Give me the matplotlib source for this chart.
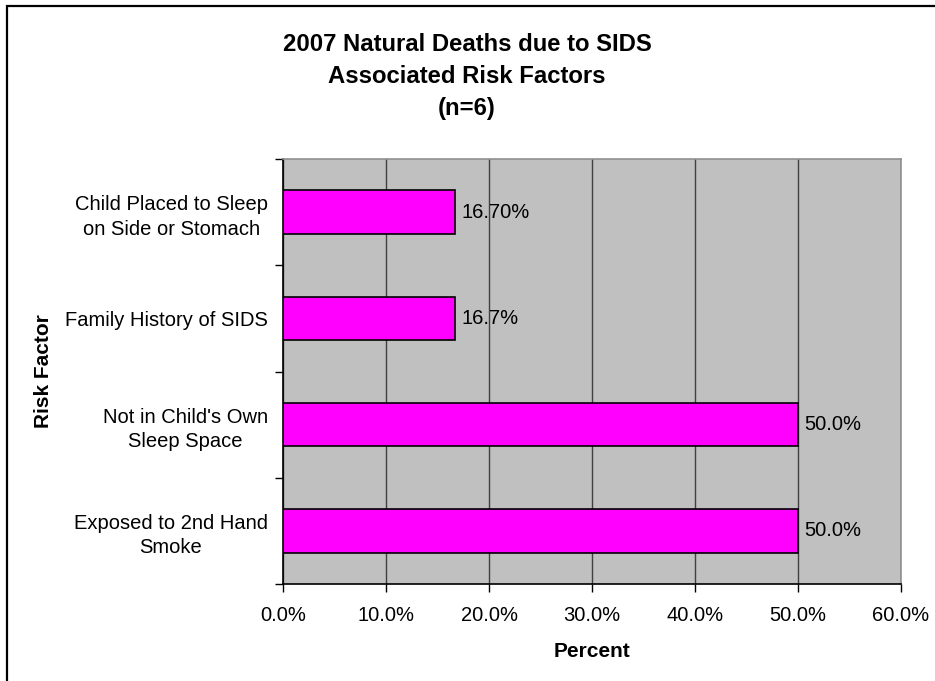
import matplotlib.pyplot as plt
from matplotlib.patches import Rectangle
from matplotlib.ticker import FuncFormatter

categories = ['Exposed to 2nd Hand\nSmoke', "Not in Child's Own\nSleep Space",
              'Family History of SIDS', 'Child Placed to Sleep\non Side or Stomach']
values = [50.0, 50.0, 16.7, 16.7]
value_labels = ['50.0%', '50.0%', '16.7%', '16.70%']
xticks = [0, 10, 20, 30, 40, 50, 60]

plt.rcParams['font.family'] = ['Liberation Sans', 'DejaVu Sans']

fig = plt.figure(figsize=(9.35, 6.81), dpi=100)
W, H = 935, 681
ax = fig.add_axes([283 / W, 1 - 584 / H, (901 - 283) / W, (584 - 159) / H])
ax.set_facecolor('#C0C0C0')

y = range(len(categories))
ax.barh(y, values, height=0.41, color='#FF00FF', edgecolor='black', linewidth=1.2, zorder=3)
for i, v in enumerate(values):
    ax.text(v + 0.6, i, value_labels[i], va='center', ha='left', fontsize=14.5, zorder=4)

ax.set_xlim(0, 60)
ax.set_ylim(-0.5, len(categories) - 0.5)
ax.set_xticks(xticks)
ax.xaxis.set_major_formatter(FuncFormatter(lambda v, p: '%.1f%%' % v))
ax.set_yticks([i - 0.5 for i in range(len(categories) + 1)])
ax.set_yticklabels([])
ax.set_yticks(list(y), minor=True)
ax.set_yticklabels(categories, minor=True, fontsize=14.5, ha='right', multialignment='center',
                   linespacing=1.36)
ax.tick_params(axis='y', which='minor', length=0, pad=11)
ax.tick_params(axis='y', which='major', length=6, direction='out', width=1)
ax.tick_params(axis='x', length=6, direction='out', width=1, labelsize=14.5, pad=10)
ax.grid(axis='x', color='#404040', linewidth=1, zorder=1)

ax.spines['left'].set_color('black')
ax.spines['bottom'].set_color('black')
ax.spines['top'].set_color('#909090')
ax.spines['right'].set_color('#909090')
for s in ax.spines.values():
    s.set_linewidth(1.2)

ax.set_xlabel('Percent', fontsize=15, fontweight='bold', labelpad=12)
ax.set_ylabel('Risk Factor', fontsize=15, fontweight='bold')
ax.yaxis.set_label_coords(-(283 - 53) / (901 - 283), 0.5)

fig.text(467 / W, 1 - 76.5 / H, '2007 Natural Deaths due to SIDS\nAssociated Risk Factors\n(n=6)',
         ha='center', va='center', fontsize=17.2, fontweight='bold', linespacing=1.52)

fig.patches.append(Rectangle((7 / W, -0.1), 1.2, 1 - 6 / H + 0.1, transform=fig.transFigure,
                             fill=False, edgecolor='black', linewidth=1.6))

fig.savefig('out.png', dpi=100)
